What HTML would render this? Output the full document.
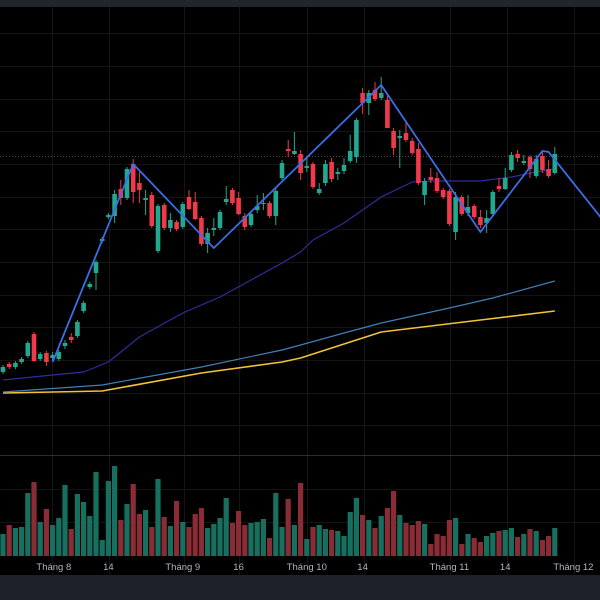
<!DOCTYPE html>
<html><head><meta charset="utf-8"><style>
html,body{margin:0;padding:0;background:#000;width:600px;height:600px;overflow:hidden}
svg{display:block}
text{font-family:"Liberation Sans","Noto Sans CJK JP",sans-serif}
</style></head><body>
<svg id="chart" width="600" height="600" viewBox="0 0 600 600" xmlns="http://www.w3.org/2000/svg">
<rect x="0" y="0" width="600" height="600" fill="#000"/>
<rect x="0" y="0" width="600" height="7" fill="#22252e"/>
<g id="grid"></g>
<line x1="0" y1="455.5" x2="600" y2="455.5" stroke="#2a2d35" stroke-width="1"/>
<line x1="0" y1="156.5" x2="600" y2="156.5" stroke="#4a4f4a" stroke-width="1" stroke-dasharray="1,2"/>
<g id="vol"></g>
<g id="ma"></g>
<g id="candles"></g>
<g id="zz"></g>
<g id="xaxis"></g>
<rect x="0" y="575" width="600" height="25" fill="#1e212a"/>
</svg>
<script>
const opens=[228,236,233,238,244,266,241,247,242,241,254,263,264,289,313,327,359,383,384,411,402,436,417,400,405,349,395,372,378,373,403,398,382,356,370,372,398,410,402,384,375,390,396,397,384,422,451,446,446,432,436,407,417,438,426,429,439,443,507,497,510,502,500,469,462,467,459,451,405,423,422,410,409,368,403,387,394,383,377,386,414,411,430,446,437,443,424,444,431,427];
const highs=[235,238,239,243,259,268,248,249,248,250,260,267,280,299,318,340,363,387,410,420,433,441,428,410,408,396,397,387,380,398,410,408,384,372,382,390,414,412,408,387,388,405,407,399,412,440,460,468,450,442,438,417,440,442,432,442,465,482,512,510,518,523,505,472,470,478,462,457,422,432,428,412,411,408,405,405,396,390,390,410,422,432,448,450,445,445,445,448,440,453];
const lows=[226,231,231,236,242,238,239,234,239,239,251,257,262,287,311,310,357,381,377,395,400,397,397,385,372,347,370,368,369,371,390,380,354,347,364,370,395,395,385,370,373,387,390,382,375,420,443,445,420,428,411,405,414,418,420,426,437,437,486,485,499,500,472,445,432,458,445,415,395,417,407,401,374,360,384,384,381,372,367,384,408,410,428,438,435,422,422,427,422,425];
const closes=[233,233,237,241,257,239,246,238,245,248,257,260,278,297,316,338,361,385,406,402,431,408,410,402,374,394,372,380,371,396,391,381,356,367,372,388,401,397,386,373,386,394,397,384,409,437,449,449,427,434,413,411,436,421,428,435,449,480,497,507,501,507,472,452,464,460,447,417,419,420,409,403,376,403,386,393,383,375,382,408,411,422,445,442,439,431,441,430,424,446];
const volumes=[22,31,28,29,63,74,34,47,31,38,71,27,62,54,40,84,16,75,90,36,52,72,42,46,29,77,39,30,55,34,29,42,48,28,32,38,58,33,45,31,33,34,37,18,63,29,57,31,73,17,29,31,27,26,25,20,44,58,41,36,28,40,48,65,41,33,31,35,32,12,22,20,36,38,12,22,18,14,20,23,25,26,28,19,22,27,25,16,20,28];
const maSlowIdx=[0,8,13,17,22,29,35,40,45,48,50,55,61,66,69,77,82,86,89];
const maSlowVals=[220,225,228,238,263,287,303,320,337,348,360,377,403,418,419,419,423,428,431];
const maMidIdx=[0,16,32,45,48,55,61,72,79,89];
const maMidVals=[208,215,233,250,255,267,277,292,302,319];
const maLongIdx=[0,16,32,45,48,61,77,89];
const maLongVals=[207,209,227,238,242,268,280,289];
const zzIdx=[8,21,34,61,77,87,88,97];
const zzVals=[238,436,352,515,368,449,448,378];
const xTickLabels=["Tháng 8","14","Tháng 9","16","Tháng 10","14","Tháng 11","14","Tháng 12"];
const xTickIdx=[8.2,17,29,38,49,58,72,81,92];

const NS="http://www.w3.org/2000/svg";
const xS=i=>3+i*6.2;
const yS=p=>600-p;
const vS=v=>556-v;
function mk(tag,attrs,parent){const e=document.createElementNS(NS,tag);for(const k in attrs)e.setAttribute(k,attrs[k]);parent.appendChild(e);return e;}

const grid=document.getElementById('grid');
[52,109,184,239,307,364,450,507,574].forEach(x=>{const l=mk('line',{x1:x+.5,y1:7,x2:x+.5,y2:575,stroke:'#141414','stroke-width':1},grid);

});
[33,66,99,131,164,197,229,262,295,327,360,393,425,489,522].forEach(y=>{const l=mk('line',{x1:0,y1:y+.5,x2:600,y2:y+.5,stroke:'#141414','stroke-width':1},grid);

});

const vol=document.getElementById('vol');
volumes.forEach((v,i)=>{const up=closes[i]>=opens[i];
const r=mk('rect',{x:xS(i)-2.6,y:vS(v),width:5.2,height:556-vS(v),fill:up?'#17705f':'#8a2c36'},vol);

});

const ma=document.getElementById('ma');
function line(idx,vals,color,w,name){const d=idx.map((i,k)=>(k?'L':'M')+xS(i).toFixed(1)+' '+yS(vals[k])).join(' ');
const p=mk('path',{d:d,fill:'none',stroke:color,'stroke-width':w,'stroke-linejoin':'round'},ma);

return p;}
line(maLongIdx,maLongVals,'#f2c232',1.6,'ma-long-line');
line(maMidIdx,maMidVals,'#3f7fb8',1.2,'ma-mid-line');
line(maSlowIdx,maSlowVals,'#2e2e9e',1.2,'ma-short-line');

const cg=document.getElementById('candles');
opens.forEach((o,i)=>{const c=closes[i],up=c>=o,col=up?'#22a88f':'#f0394a',x=xS(i);
const w=mk('line',{x1:x,y1:yS(highs[i]),x2:x,y2:yS(lows[i]),stroke:col,'stroke-width':1},cg);


const top=yS(Math.max(o,c)),h=Math.max(1,Math.abs(o-c));
const b=mk('rect',{x:x-2.3,y:top,width:4.6,height:h,fill:col},cg);

});

const zz=document.getElementById('zz');
const zp=mk('path',{d:zzIdx.map((i,k)=>(k?'L':'M')+xS(i).toFixed(1)+' '+yS(zzVals[k])).join(' '),fill:'none',stroke:'#3b6de6','stroke-width':1.8,'stroke-linejoin':'miter'},zz);



const xa=document.getElementById('xaxis');
xTickLabels.forEach((t,k)=>{const e=mk('text',{x:xS(xTickIdx[k]),y:570,fill:'#b2b5be','font-size':9.5,'text-anchor':'middle'},xa);
e.textContent=t;

});
</script>
</body></html>
